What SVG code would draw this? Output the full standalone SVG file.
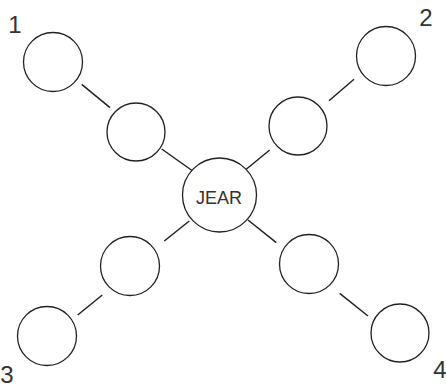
<svg xmlns="http://www.w3.org/2000/svg" width="446" height="387" viewBox="0 0 446 387">
<style>
.n{fill:#fff;stroke:#222;stroke-width:1.3}
.c{stroke:#222;stroke-width:1.5;fill:none}
.t{font-family:"Liberation Sans",Arial,sans-serif;fill:#333}
.d{font-family:"Liberation Sans",Arial,sans-serif;font-size:24px;fill:#333;text-anchor:middle}
</style>
<rect width="446" height="387" fill="#fff"/>
<g id="connectors">
<line class="c" x1="81.7" y1="84.3" x2="110" y2="107.7"/>
<line class="c" x1="161.7" y1="149" x2="192.7" y2="171"/>
<line class="c" x1="329" y1="100.7" x2="354" y2="79.3"/>
<line class="c" x1="245.3" y1="170" x2="269.7" y2="150"/>
<line class="c" x1="77.7" y1="315" x2="102.3" y2="295"/>
<line class="c" x1="164.3" y1="241" x2="189.3" y2="221"/>
<line class="c" x1="248" y1="220" x2="276.3" y2="242.7"/>
<line class="c" x1="339.7" y1="293.3" x2="368" y2="316"/>
</g>
<g id="center"><circle class="n" cx="219.5" cy="195" r="37"/><text class="t" x="219" y="203.5" font-size="18" text-anchor="middle">JEAR</text></g>
<g id="n1"><circle class="n" cx="53" cy="62" r="29.5"/></g>
<g id="n1a"><circle class="n" cx="136" cy="132" r="29"/></g>
<g id="n2"><circle class="n" cx="386" cy="56" r="29.5"/></g>
<g id="n2a"><circle class="n" cx="298" cy="126" r="29"/></g>
<g id="n3"><circle class="n" cx="47" cy="336" r="29.5"/></g>
<g id="n3a"><circle class="n" cx="130" cy="266" r="29.5"/></g>
<g id="n4"><circle class="n" cx="400" cy="333" r="29"/></g>
<g id="n4a"><circle class="n" cx="309" cy="264" r="29.5"/></g>
<g id="labels">
<text class="d" x="15" y="33">1</text>
<text class="d" x="426" y="26">2</text>
<text class="d" x="7" y="383">3</text>
<text class="d" x="440" y="378">4</text>
</g>
</svg>
